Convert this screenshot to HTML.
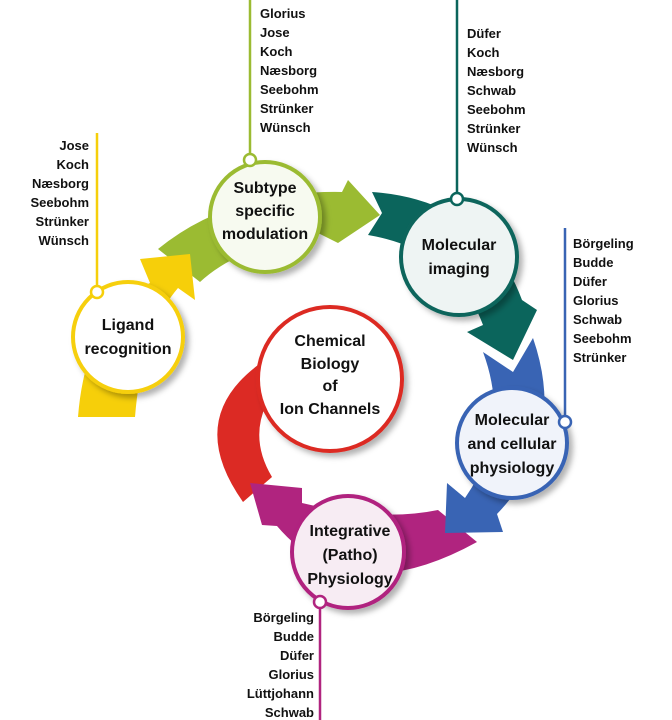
<!DOCTYPE html>
<html><head><meta charset="utf-8">
<style>
body{margin:0;background:#fff;}
svg{display:block;font-family:"Liberation Sans",sans-serif;}
.lab{font-size:16px;font-weight:bold;fill:#111;text-anchor:middle;}
.lst{font-size:13px;font-weight:bold;fill:#111;}
</style></head><body>
<svg width="672" height="720" viewBox="0 0 672 720">
<defs>
<filter id="sh" x="-30%" y="-30%" width="160%" height="160%"><feDropShadow dx="4" dy="4" stdDeviation="3" flood-color="#000" flood-opacity="0.3"/></filter>
</defs>
<!-- arrows -->
<path d="M243,502 Q185,420 258,365 L266,405 Q250,440 272,477 Z" fill="#dc2a24"/>
<path d="M477,542 L438,510 Q380,522 302,503 L302,488 L250,483 L262,525 L277,526 Q350,612 477,542 Z" fill="#b0247f"/>
<path d="M483,352 L513,372 L533,338 Q568,440 497,514 L503,532 L445,533 L447,483 L465,498 Q512,430 483,352 Z" fill="#3964b4"/>
<path d="M372,192 Q485,200 522,300 L537,310 L513,360 L467,332 L483,325 Q455,250 368,235 L382,213 Z" fill="#0b655c"/>
<path d="M200,282 Q240,245 320,234 L338,243 L380,215 L348,180 L342,192 Q230,190 158,249 Z" fill="#9bbb32"/>
<path d="M78,417 Q86,315 150,283 L140,259 L190,254 L195,300 L178,288 Q142,330 135,417 Z" fill="#f6cf0a"/>
<!-- lines -->
<g stroke-width="2.5" fill="#fff">
<line x1="97" y1="133" x2="97" y2="292" stroke="#f6cf0a"/>
<line x1="250" y1="0" x2="250" y2="160" stroke="#9bbb32"/>
<line x1="457" y1="0" x2="457" y2="199" stroke="#0b655c"/>
<line x1="565" y1="228" x2="565" y2="422" stroke="#3964b4"/>
<line x1="320" y1="602" x2="320" y2="720" stroke="#b0247f"/>
</g>
<!-- circles -->
<g stroke-width="4">
<circle cx="128" cy="337" r="55" fill="#fff" stroke="#f6cf0a" filter="url(#sh)"/>
<circle cx="265" cy="217" r="55" fill="#f7faf0" stroke="#9bbb32" filter="url(#sh)"/>
<circle cx="459" cy="257" r="58" fill="#eef4f3" stroke="#0b655c" filter="url(#sh)"/>
<circle cx="512" cy="443" r="55" fill="#f0f3fa" stroke="#3964b4" filter="url(#sh)"/>
<circle cx="348" cy="552" r="56" fill="#f7ecf3" stroke="#b0247f" filter="url(#sh)"/>
<circle cx="330" cy="379" r="72" fill="#fff" stroke="#dc2a24" filter="url(#sh)"/>
</g>
<g stroke-width="2.5" fill="#fff">
<circle cx="97" cy="292" r="6" stroke="#f6cf0a"/>
<circle cx="250" cy="160" r="6" stroke="#9bbb32"/>
<circle cx="457" cy="199" r="6" stroke="#0b655c"/>
<circle cx="565" cy="422" r="6" stroke="#3964b4"/>
<circle cx="320" cy="602" r="6" stroke="#b0247f"/>
</g>
<!-- labels -->
<text class="lab" x="128" y="330">Ligand</text>
<text class="lab" x="128" y="354">recognition</text>
<text class="lab" x="265" y="193">Subtype</text>
<text class="lab" x="265" y="216">specific</text>
<text class="lab" x="265" y="239">modulation</text>
<text class="lab" x="459" y="250">Molecular</text>
<text class="lab" x="459" y="274">imaging</text>
<text class="lab" x="512" y="425">Molecular</text>
<text class="lab" x="512" y="449">and cellular</text>
<text class="lab" x="512" y="473">physiology</text>
<text class="lab" x="350" y="536">Integrative</text>
<text class="lab" x="350" y="560">(Patho)</text>
<text class="lab" x="350" y="584">Physiology</text>
<text class="lab" x="330" y="346">Chemical</text>
<text class="lab" x="330" y="369">Biology</text>
<text class="lab" x="330" y="391">of</text>
<text class="lab" x="330" y="414">Ion Channels</text>
<!-- lists -->
<text class="lst" text-anchor="end"><tspan x="89" y="150">Jose</tspan><tspan x="89" y="169">Koch</tspan><tspan x="89" y="188">Næsborg</tspan><tspan x="89" y="207">Seebohm</tspan><tspan x="89" y="226">Strünker</tspan><tspan x="89" y="245">Wünsch</tspan></text>
<text class="lst"><tspan x="260" y="18">Glorius</tspan><tspan x="260" y="37">Jose</tspan><tspan x="260" y="56">Koch</tspan><tspan x="260" y="75">Næsborg</tspan><tspan x="260" y="94">Seebohm</tspan><tspan x="260" y="113">Strünker</tspan><tspan x="260" y="132">Wünsch</tspan></text>
<text class="lst"><tspan x="467" y="38">Düfer</tspan><tspan x="467" y="57">Koch</tspan><tspan x="467" y="76">Næsborg</tspan><tspan x="467" y="95">Schwab</tspan><tspan x="467" y="114">Seebohm</tspan><tspan x="467" y="133">Strünker</tspan><tspan x="467" y="152">Wünsch</tspan></text>
<text class="lst"><tspan x="573" y="248">Börgeling</tspan><tspan x="573" y="267">Budde</tspan><tspan x="573" y="286">Düfer</tspan><tspan x="573" y="305">Glorius</tspan><tspan x="573" y="324">Schwab</tspan><tspan x="573" y="343">Seebohm</tspan><tspan x="573" y="362">Strünker</tspan></text>
<text class="lst" text-anchor="end"><tspan x="314" y="622">Börgeling</tspan><tspan x="314" y="641">Budde</tspan><tspan x="314" y="660">Düfer</tspan><tspan x="314" y="679">Glorius</tspan><tspan x="314" y="698">Lüttjohann</tspan><tspan x="314" y="717">Schwab</tspan></text>
</svg>
</body></html>
